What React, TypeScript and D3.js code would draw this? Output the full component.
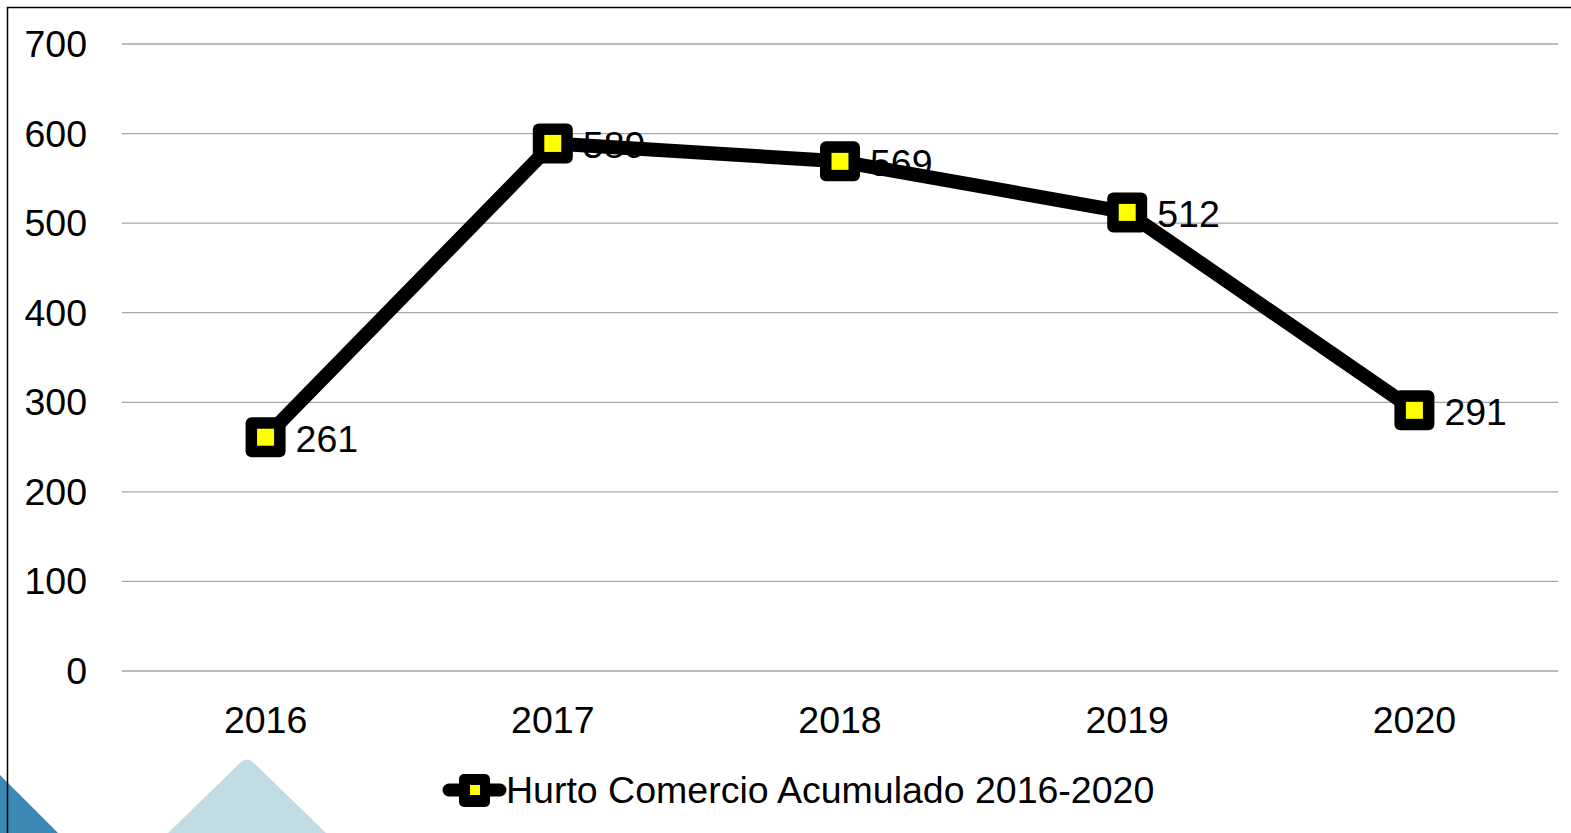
import React from "react";
import * as d3 from "d3";

const categories = ["2016", "2017", "2018", "2019", "2020"];
const values = [261, 589, 569, 512, 291];
const yTicks = [0, 100, 200, 300, 400, 500, 600, 700];
const seriesName = "Hurto Comercio Acumulado 2016-2020";

const W = 1571;
const H = 833;
const FONT = "'Liberation Sans', Arial, sans-serif";
const FS = 37.5;

export default function App() {
  const x = d3.scaleBand<string>().domain(categories).range([122, 1558]);
  const y = d3.scaleLinear().domain([0, 700]).range([671, 44]);
  const cx = (c: string) => (x(c) as number) + x.bandwidth() / 2;
  const line = d3
    .line<number>()
    .x((_, i) => cx(categories[i]))
    .y((d) => y(d));

  const ms = 40;
  const inner = 17;

  return (
    <svg
      width={W}
      height={H}
      style={{ position: "absolute", left: 0, top: 0, background: "#fff" }}
      fontFamily={FONT}
    >
      <rect x={0} y={0} width={W} height={H} fill="#fff" />
      {/* decorative triangles */}
      <path d="M0,775 L58,833 L0,833 Z" fill="#3a8ab4" />
      <path
        d="M168,833 L240,763 Q247,756 254,763 L326,833 Z"
        fill="#c2dce6"
      />
      {/* border */}
      <path d={`M7.5,833 L7.5,7.5 L${W},7.5`} fill="none" stroke="#000" strokeWidth={1.5} />

      {/* grid */}
      {yTicks.map((t) => (
        <g key={t}>
          <line x1={122} x2={1558} y1={y(t)} y2={y(t)} stroke="#a6a6a6" strokeWidth={1.3} />
          <text x={87} y={y(t)} textAnchor="end" dominantBaseline="central" fontSize={FS} fill="#000">
            {t}
          </text>
        </g>
      ))}
      {categories.map((c) => (
        <text key={c} x={cx(c)} y={720} textAnchor="middle" dominantBaseline="central" fontSize={FS} fill="#000">
          {c}
        </text>
      ))}

      {/* line */}
      <path d={line(values) || ""} fill="none" stroke="#000" strokeWidth={14} strokeLinejoin="round" />
      {values.map((v, i) => (
        <g key={i}>
          <rect x={cx(categories[i]) - ms / 2} y={y(v) - ms / 2} width={ms} height={ms} rx={6} fill="#000" />
          <rect x={cx(categories[i]) - inner / 2} y={y(v) - inner / 2} width={inner} height={inner} fill="#ffff00" />
        </g>
      ))}
      {values.map((v, i) => (
        <text
          key={"l" + i}
          x={cx(categories[i]) + 30}
          y={y(v) + 2}
          dominantBaseline="central"
          fontSize={FS}
          fill="#000"
        >
          {v}
        </text>
      ))}

      {/* legend */}
      <g>
        <line x1={449} x2={500} y1={790} y2={790} stroke="#000" strokeWidth={13} strokeLinecap="round" />
        <rect x={459} y={774} width={31} height={33} rx={5} fill="#000" />
        <rect x={470} y={785} width={10} height={10} fill="#ffff00" />
        <text x={506} y={790} dominantBaseline="central" fontSize={FS} fill="#000">
          {seriesName}
        </text>
      </g>
    </svg>
  );
}
